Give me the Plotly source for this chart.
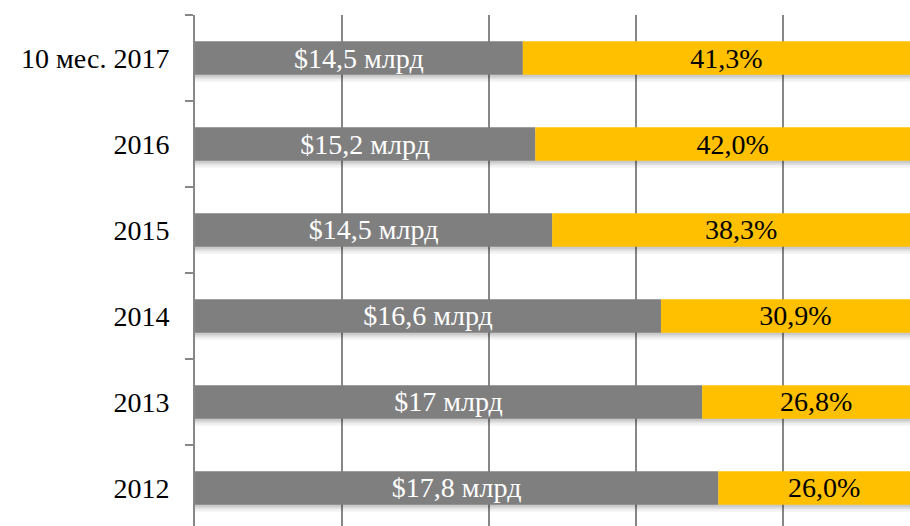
import plotly.graph_objects as go

# categories bottom-to-top
categories = ["2012", "2013", "2014", "2015", "2016", "10 мес. 2017"]
gray_values = [71.2, 69.0, 63.4, 48.6, 46.3, 44.6]
gray_labels = ["$17,8 млрд", "$17 млрд", "$16,6 млрд", "$14,5 млрд", "$15,2 млрд", "$14,5 млрд"]
yellow_labels = ["26,0%", "26,8%", "30,9%", "38,3%", "42,0%", "41,3%"]
total = 100
yellow_values = [total - g for g in gray_values]
totals = [total] * len(categories)

FONT = "Liberation Serif"
GRID = "#878787"
FS = 28
BW = 0.39          # bar thickness (category units)
PX = 1 / 86.0      # one pixel in category units

fig = go.Figure()
# soft shadow below bars
for shift, alpha in [(7, 0.05), (4.5, 0.07), (2.5, 0.09)]:
    fig.add_trace(go.Bar(
        y=categories, x=totals, base=0, orientation="h",
        width=BW, offset=-BW / 2 - shift * PX,
        marker=dict(color=f"rgba(0,0,0,{alpha})", line=dict(width=0)),
        hoverinfo="skip",
    ))
fig.add_trace(go.Bar(
    y=categories, x=gray_values, base=0, orientation="h",
    width=BW, offset=-BW / 2,
    marker=dict(color="#7f7f7f", line=dict(width=0)),
    text=gray_labels, textposition="inside", insidetextanchor="middle",
    textfont=dict(family=FONT, size=FS, color="white"),
    constraintext="none",
))
fig.add_trace(go.Bar(
    y=categories, x=yellow_values, base=gray_values, orientation="h",
    width=BW, offset=-BW / 2,
    marker=dict(color="#ffc000", line=dict(width=0)),
    text=yellow_labels, textposition="inside", insidetextanchor="middle",
    textfont=dict(family=FONT, size=FS, color="black"),
    constraintext="none",
))

fig.update_layout(
    width=910, height=526,
    margin=dict(l=195, r=0, t=15, b=0, autoexpand=False),
    barmode="overlay",
    showlegend=False,
    plot_bgcolor="white", paper_bgcolor="white",
    font=dict(family=FONT, size=FS, color="black"),
    xaxis=dict(
        range=[0, 97.28], dtick=20, tick0=0,
        showgrid=True, gridcolor=GRID, gridwidth=2,
        zeroline=False, showline=False, showticklabels=False, ticks="",
        automargin=False,
    ),
    yaxis=dict(
        type="category", categoryorder="array", categoryarray=categories,
        range=[-0.442, 5.5],
        showline=True, linecolor=GRID, linewidth=2,
        ticks="outside", tickson="boundaries", ticklen=8, tickcolor=GRID, tickwidth=2,
        showgrid=False, zeroline=False,
        ticklabelstandoff=18, automargin=False,
        tickfont=dict(family=FONT, size=FS, color="black"),
    ),
)

fig.write_html(
    "out.html",
    config={"displayModeBar": False},
    post_script="document.body.style.margin='0';document.body.style.overflow='hidden';",
)
